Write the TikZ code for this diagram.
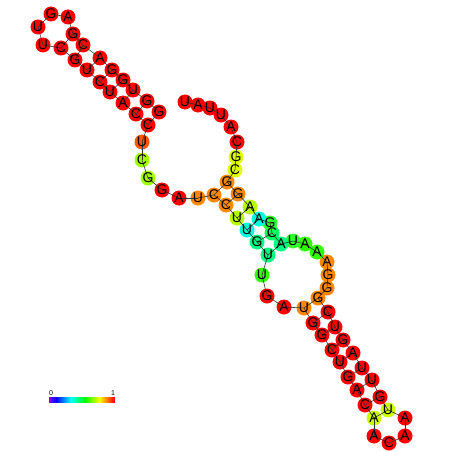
\documentclass[tikz,border=0pt]{standalone}
\usepackage{fontspec}
\setmainfont{Liberation Sans}
\usepackage{tikz}
\usetikzlibrary{calc}
\definecolor{nred}{HTML}{FF0000}
\definecolor{nored}{HTML}{FF5500}
\definecolor{nora}{HTML}{FF8800}
\definecolor{nyel}{HTML}{DDFF00}
\definecolor{nlime}{HTML}{A0FF00}
\definecolor{nygr}{HTML}{B4FF00}
\definecolor{nchart}{HTML}{CCFF00}
\definecolor{ncyan}{HTML}{00FFDD}
\definecolor{nspring}{HTML}{00FF80}
\definecolor{nmint}{HTML}{00FF60}
\definecolor{ngreen}{HTML}{30FF30}
\definecolor{nleaf}{HTML}{30FF00}
\definecolor{bondgray}{HTML}{333333}
\pgfdeclarelayer{bg}
\pgfdeclarelayer{mid}
\pgfsetlayers{bg,mid,main}

\begin{document}
\begin{tikzpicture}[x=1pt,y=-1pt,
  base/.style={inner sep=0pt,font=\fontsize{14}{14}\selectfont},
  bond/.style={draw=bondgray,line width=0.6pt}]
\useasboundingbox (0,0) rectangle (452,452);
% nucleotides: index / x / y / letter / colour
\foreach \n/\x/\y/\b/\c in {
  1/159/112/G/nred, 2/147/101/G/nred, 3/133/90/U/nred, 4/123/80/G/nred,
  5/112/70/G/nred, 6/100/58/A/nred, 7/83/45/C/nred, 8/73/34/G/nred,
  9/68/17/A/nred, 10/51/14/G/nred, 11/38/27/U/nred, 12/43/45/U/nred,
  13/61/48/C/nred, 14/75/60/G/nred, 15/87/70/U/nred, 16/100/82/C/nred,
  17/110/92/U/nred, 18/123/103/A/nred, 19/136/114/C/nred, 20/148/125/C/nred,
  21/142/142/U/nored, 22/142/160/C/nlime, 23/148/178/G/nlime, 24/162/190/G/nred,
  25/179/198/A/nred, 26/198/198/U/nora, 27/214/195/C/nora, 28/226/205/C/nora,
  29/237/218/U/nygr, 30/247/230/U/ncyan, 31/257/242/G/nspring, 32/268/255/U/nspring,
  33/262/275/U/nleaf, 34/267/296/G/nred, 35/284/307/A/nred, 36/304/308/U/nora,
  37/313/323/G/nred, 38/322/335/G/nred, 39/332/350/C/nred, 40/340/362/U/nred,
  41/348/377/G/nred, 42/357/390/A/nred, 43/365/405/C/nred, 44/374/418/A/nchart,
  45/374/436/A/nred, 46/389/443/C/nred, 47/405/436/A/nred, 48/405/418/A/nred,
  49/388/410/U/nchart, 50/380/397/G/nred, 51/372/380/U/nred, 52/362/368/U/nred,
  53/353/353/A/nred, 54/343/340/G/nred, 55/335/327/U/nred, 56/328/312/C/nred,
  57/318/298/G/nora, 58/327/288/G/nora, 59/328/275/G/nora, 60/327/262/A/nora,
  61/317/252/A/nleaf, 62/305/244/A/nleaf, 63/293/241/U/ngreen, 64/281/244/A/nspring,
  65/272/233/C/nmint, 66/270/223/G/ngreen, 67/259/219/A/ncyan, 68/250/207/A/nygr,
  69/238/194/G/nora, 70/227/182/G/nora, 71/235/170/C/nyel, 72/236/157/G/nyel,
  73/237/142/C/nred, 74/231/127/A/nred, 75/221/115/U/nred, 76/210/108/U/nred,
  77/198/105/A/nred, 78/185/102/U/nred}{
  \node[base] (n\n) at (\x,\y) {\b};
  \begin{pgfonlayer}{bg}
    \fill[\c] (n\n.center) circle (7.5);
  \end{pgfonlayer}
}
\begin{pgfonlayer}{mid}
% backbone
\foreach \i [evaluate=\i as \j using int(\i+1)] in {1,...,77}
  \draw[bond] (n\i.center) -- (n\j.center);
% base pairs
\foreach \p/\q in {1/20,2/19,3/18,4/17,5/16,6/15,7/14,8/13,
  27/70,28/69,29/68,30/67,31/65,32/64,
  36/57,37/56,38/55,39/54,40/53,41/52,42/51,43/50,44/49}
  \draw[bond] (n\p.center) -- (n\q.center);
\end{pgfonlayer}
% colour bar
\foreach \i in {0,...,65}{
  \pgfmathsetmacro{\h}{0.75*(1-\i/65)}
  \definecolor{barcol}{hsb}{\h,1,1}
  \fill[barcol] ({49+\i},397) rectangle ({50.2+\i},403);
}
\node[base,font=\fontsize{7}{7}\selectfont,anchor=south] (lo) at (51,396) {0};
\node[base,font=\fontsize{7}{7}\selectfont,anchor=south] (hi) at (113,396) {1};
\end{tikzpicture}
\end{document}
